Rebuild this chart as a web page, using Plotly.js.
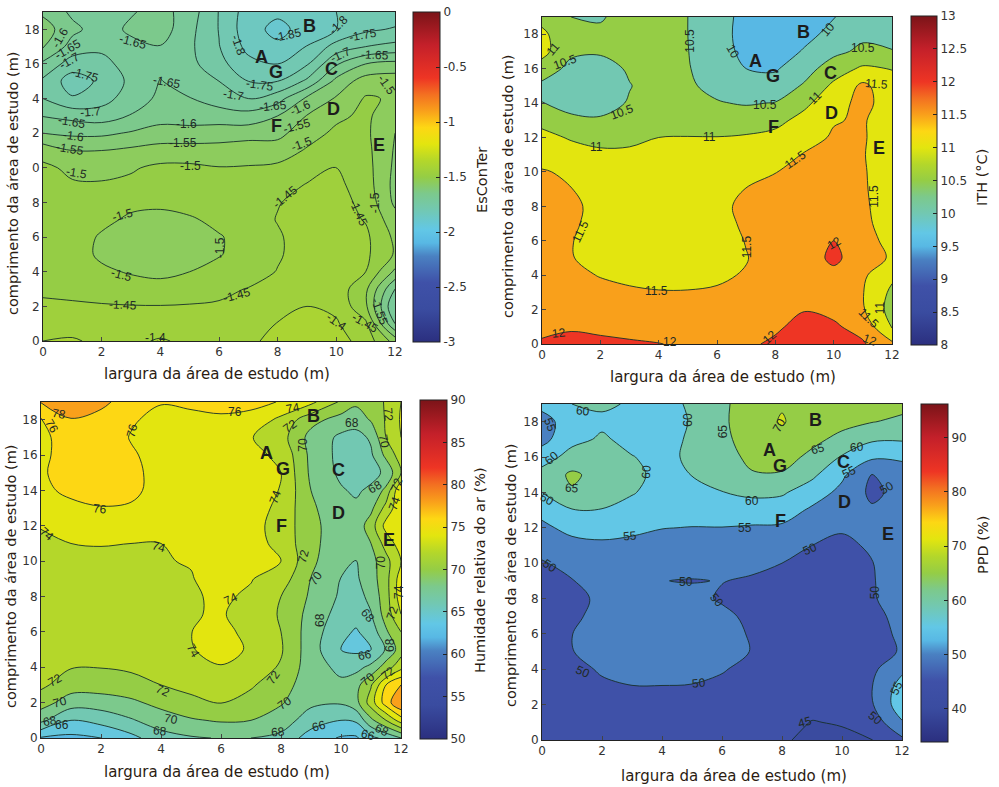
<!DOCTYPE html>
<html><head><meta charset="utf-8">
<script src="https://cdn.plot.ly/plotly-3.0.0.min.js"></script>
<style>html,body{margin:0;padding:0;background:#fff}</style></head>
<body><div id="g" style="width:999px;height:787px"></div>
<script>
// ----- data: each inner array is one column (one x), rows y = 0..19 -----
const yGrid = [0,1,2,3,4,5,6,7,8,9,10,11,12,13,14,15,16,17,18,19];
const xGrid = [0,1,2,3,4,5,6,7,8,9,10,11,12];
const xGridHum = [0,1,2,3,4,5,6,7,8,9,10,10.5,11,11.5,12];

const esConTer = [
[-1.40,-1.42,-1.44,-1.46,-1.47,-1.48,-1.485,-1.485,-1.485,-1.49,-1.49,-1.52,-1.60,-1.652,-1.70,-1.71,-1.66,-1.595,-1.575,-1.61],
[-1.395,-1.42,-1.445,-1.46,-1.47,-1.475,-1.48,-1.485,-1.49,-1.495,-1.51,-1.55,-1.61,-1.665,-1.745,-1.775,-1.725,-1.67,-1.637,-1.66],
[-1.41,-1.43,-1.447,-1.465,-1.49,-1.51,-1.505,-1.49,-1.49,-1.495,-1.515,-1.55,-1.61,-1.675,-1.72,-1.74,-1.715,-1.69,-1.675,-1.68],
[-1.41,-1.43,-1.448,-1.475,-1.505,-1.52,-1.525,-1.507,-1.49,-1.49,-1.505,-1.54,-1.595,-1.647,-1.675,-1.688,-1.68,-1.665,-1.64,-1.655],
[-1.395,-1.425,-1.448,-1.485,-1.51,-1.53,-1.53,-1.515,-1.49,-1.48,-1.49,-1.53,-1.58,-1.62,-1.64,-1.648,-1.66,-1.652,-1.625,-1.63],
[-1.41,-1.43,-1.447,-1.47,-1.50,-1.52,-1.52,-1.505,-1.485,-1.48,-1.49,-1.53,-1.58,-1.625,-1.648,-1.67,-1.685,-1.69,-1.685,-1.675],
[-1.415,-1.43,-1.445,-1.46,-1.485,-1.503,-1.503,-1.49,-1.48,-1.485,-1.498,-1.53,-1.575,-1.625,-1.675,-1.70,-1.735,-1.748,-1.752,-1.752],
[-1.41,-1.425,-1.44,-1.448,-1.47,-1.48,-1.485,-1.47,-1.47,-1.48,-1.497,-1.52,-1.572,-1.63,-1.70,-1.75,-1.785,-1.815,-1.83,-1.825],
[-1.385,-1.398,-1.42,-1.437,-1.448,-1.455,-1.455,-1.448,-1.452,-1.47,-1.49,-1.525,-1.565,-1.60,-1.67,-1.75,-1.80,-1.84,-1.865,-1.84],
[-1.385,-1.385,-1.40,-1.42,-1.43,-1.43,-1.43,-1.432,-1.438,-1.447,-1.47,-1.495,-1.52,-1.548,-1.59,-1.69,-1.755,-1.798,-1.83,-1.83],
[-1.38,-1.395,-1.41,-1.42,-1.43,-1.43,-1.43,-1.43,-1.43,-1.438,-1.448,-1.47,-1.49,-1.51,-1.545,-1.585,-1.655,-1.73,-1.80,-1.80],
[-1.42,-1.44,-1.49,-1.49,-1.45,-1.44,-1.44,-1.453,-1.465,-1.475,-1.48,-1.485,-1.49,-1.49,-1.495,-1.525,-1.60,-1.70,-1.76,-1.79],
[-1.52,-1.65,-1.70,-1.65,-1.56,-1.505,-1.51,-1.53,-1.56,-1.565,-1.56,-1.555,-1.55,-1.535,-1.505,-1.52,-1.585,-1.685,-1.745,-1.78]
];
const ith = [
[12.05,11.9,11.8,11.75,11.7,11.68,11.67,11.65,11.63,11.6,11.54,11.3,11.15,10.85,10.51,10.38,10.8,11.15,11.1,10.85],
[12.08,11.97,11.78,11.68,11.6,11.52,11.52,11.58,11.6,11.51,11.42,11.22,10.95,10.6,10.33,10.25,10.35,10.6,10.65,10.5],
[12.05,11.95,11.8,11.62,11.48,11.35,11.3,11.32,11.35,11.3,11.2,11.08,10.88,10.56,10.3,10.18,10.3,10.56,10.6,10.45],
[12.03,11.92,11.7,11.55,11.42,11.28,11.22,11.22,11.25,11.22,11.15,11.05,10.94,10.72,10.54,10.48,10.56,10.68,10.75,10.7],
[12.01,11.85,11.65,11.52,11.38,11.25,11.18,11.17,11.18,11.15,11.12,11.06,11.0,10.85,10.75,10.7,10.7,10.72,10.75,10.75],
[11.95,11.8,11.62,11.52,11.38,11.25,11.2,11.2,11.2,11.17,11.13,11.07,11.01,10.85,10.72,10.56,10.53,10.51,10.5,10.5],
[11.9,11.78,11.62,11.54,11.44,11.3,11.28,11.33,11.42,11.37,11.23,11.11,11.01,10.78,10.53,10.38,10.25,10.2,10.2,10.2],
[11.92,11.82,11.68,11.6,11.53,11.48,11.52,11.58,11.57,11.51,11.33,11.19,11.05,10.76,10.46,10.22,10.0,9.88,9.82,9.85],
[12.08,11.93,11.82,11.76,11.73,11.72,11.7,11.68,11.64,11.6,11.49,11.3,11.13,10.87,10.52,10.2,9.95,9.72,9.65,9.7],
[12.3,12.15,11.98,11.88,11.83,11.72,11.8,11.78,11.74,11.7,11.62,11.53,11.33,11.15,10.9,10.56,10.3,10.05,9.85,9.85],
[12.2,12.06,11.9,11.85,11.85,12.12,12.0,11.85,11.78,11.72,11.65,11.6,11.55,11.47,11.3,11.1,10.75,10.38,10.15,9.98],
[12.05,11.85,11.55,11.52,11.58,11.7,11.65,11.6,11.58,11.56,11.55,11.53,11.55,11.55,11.65,11.6,11.08,10.6,10.4,10.3],
[11.6,10.95,10.8,10.9,11.1,11.45,11.38,11.3,11.25,11.22,11.2,11.2,11.2,11.2,11.25,11.2,10.98,10.52,10.35,10.25]
];
const humidade = [
[63.8,68.5,70.9,72.4,72.9,73.1,73.2,73.2,73.2,73.3,73.4,73.6,74.1,75,75.6,75.8,75.6,75.4,75.8,78.1],
[63.5,66,69,70.95,72.1,72.7,72.9,73,73.1,73.2,73.4,74,74.9,75.55,76.4,76.7,76.8,77.2,77.9,79.2],
[64,66.7,69,71,72.05,72.6,72.8,72.9,73,73.2,73.5,74.1,75,75.9,76.8,76.9,77,77.1,77.3,78.5],
[65.4,67.8,69.6,71.3,72.3,72.7,72.9,73,73.1,73.3,73.6,74,74.9,75.75,76.5,76.5,76.2,75.9,76.2,77],
[67.2,69,70.6,72,73.1,73.5,73.6,73.7,73.7,73.8,73.9,74,74.5,75,75.2,75.3,75.4,75.4,75.5,76.1],
[67.8,69.8,71.4,72.7,73.2,73.9,73.98,73.9,73.8,73.9,74.1,74.5,74.7,74.9,75,75.1,75.2,75.3,75.6,76.3],
[68.1,70.2,72.05,73,73.9,74.6,74.5,74.15,74.3,74.8,75,75.1,75.2,75.2,75.2,75.2,75.2,75.3,75.8,76.4],
[68,70,71.4,72.2,73,73.8,73.5,73.3,73.7,74.1,74.5,74.8,74.6,74.9,75,75,74.5,74.1,75.4,76.5],
[67.5,69,70.2,71,71.8,72.2,72,71.8,72,73,74,73.4,73.3,73.5,73.9,74,73.6,72.8,73.5,75.9],
[65,67,68.4,68.7,68.9,68.9,69,69.3,69.7,69.95,70.4,70.5,70.5,70.3,70,69.6,69.5,69.3,70.7,74.5],
[63.8,66,68.2,68.4,67.5,66,66.5,67.2,67.7,67.95,68.5,68.9,69,68.8,68.2,67.6,67.4,67.6,69.2,71.7],
[63.7,66.3,69.3,69.3,67.4,65.6,65.8,66.7,67.3,67.7,67.98,68.5,68.8,68.4,67.7,67,66.9,67.3,68.9,70.4],
[65.5,69.5,73,71.8,68.5,65.9,66.8,67.9,68.5,69.1,69.3,70,71,69.5,68.4,67.3,67.7,68.3,70.2,71],
[66.5,72,77,76,71,68.2,69.7,70.9,71.2,71.3,71.3,72.8,74.7,72.7,70.5,68.4,70.5,72,72.2,72.2],
[68,75,80,78,73.4,71,72,74,75,75,74,75,76,75.5,76,72,73,74,74.2,74]
];
const ppd = [
[46.5,46.7,46.9,47,47.2,47.5,47.8,48,48.3,48.8,49.6,51.8,53.9,56.5,60,62,57.5,53.5,53,56.5],
[47.5,47.5,47.6,47.9,48.4,49.9,49.95,49.2,49,49.9,51.5,53.4,56.5,59.7,64.5,65.8,62,58.5,57.6,60],
[47.6,47.6,48,49.1,50.6,51.3,51.8,51.3,50.7,50.7,52,54.3,56.5,59.8,62.3,63.3,62.6,60.7,59,60.8],
[47.5,47.6,48.5,49.9,51,52,52.5,52.3,51.7,51.6,52.4,54.1,55.8,58,60.4,61.3,60.2,58.5,58,59.5],
[47.5,47.7,48.5,49.9,51.1,52.1,52.6,52.4,51.2,50.05,51.5,53.6,55.1,56.5,57.8,58.5,58.5,58.3,58.2,58.6],
[47.5,47.7,48.4,49.8,51,51.9,52.3,52.2,51,49.85,51.2,53.4,54.9,56.5,58.8,60.1,61,60.7,60.3,60.6],
[47.8,47.9,48.4,49.4,50.2,51,51.5,50.8,49.6,50.1,51.4,53.2,54.9,57.3,59.9,61.2,62.5,63.5,64,63.9],
[47.8,47.9,48.2,48.7,49.2,49.9,49.6,49.2,49.1,49.6,50.8,52.7,54.5,57.7,61,64.5,66.5,67.8,68.3,68],
[45.5,46,46.8,47.3,47.8,47.9,47.9,48,48.3,48.9,50,52,54.2,57.5,60.6,64.5,67,69,70.3,69.7],
[44,44.9,45.8,46.3,46.7,47,47,47.3,47.8,48.3,49.1,50,52.4,54.2,57.5,61,63.8,66.3,68,68.3],
[44.4,45.2,45.9,46.4,46.7,46.8,47,47.2,47.7,48,48.5,49.2,50.4,52,53.7,55.9,59.6,63.6,66.5,67.2],
[44.9,47,49.6,49.9,49,48.2,48,48.8,49.7,49.8,49.9,50.5,50.9,50.6,49,49.9,55.8,60.7,65.2,66.5],
[49,54.6,58,57,54,50.4,51,51.3,51.5,51.5,51.5,51.5,52,52.3,51.5,53.5,55.5,60.5,64,66.5]
];

const xTicks = [0,2,4,6,8,10,12];
const yTicks = [0,2,4,6,8,10,12,14,16,18];
const yLabelsClipped = ['0','2','4','6','8','0','2','4','16','18'];
const yLabels = ['0','2','4','6','8','10','12','14','16','18'];
const pointNames = ['A','B','C','D','E','F','G'];
const pointsX = [[7.46,9.09,9.85,9.9,11.45,7.97,7.95],[7.32,8.98,9.9,9.93,11.57,7.95,7.93],[7.52,9.08,9.93,9.93,11.6,8.02,8.06],[7.58,9.1,10.05,10.09,11.53,7.94,7.92]];
const pointsY = [[16.4,18.2,15.7,13.4,11.3,12.4,15.55],[16.44,18.1,15.75,13.44,11.4,12.6,15.57],[16.13,18.2,15.17,12.74,11.18,11.97,15.2],[16.4,18.07,15.7,13.43,11.66,12.4,15.47]];

// contour-level texts [text, x at 3x of the sheet quadrant, y at 3x, rotation]
const labelsEsConTer = [['-1.6',180,115,-60],['-1.65',205,148,-30],['-1.7',207,183,-30],['-1.75',255,226,15],['-1.7',270,335,-5],['-1.65',215,365,10],['-1.6',220,408,8],['-1.55',210,447,10],['-1.5',230,518,10],['-1.65',400,127,15],['-1.65',500,245,10],['-1.7',700,285,10],['-1.75',780,255,8],['-1.8',715,135,70],['-1.85',865,105,-12],['-1.8',1015,75,-45],['-1.75',1090,105,-10],['-1.7',1020,165,-25],['-1.65',1125,165,3],['-1.65',820,318,-5],['-1.6',900,325,-25],['-1.55',890,378,-15],['-1.6',560,372,0],['-1.55',550,428,0],['-1.5',905,432,-20],['-1.5',570,497,0],['-1.45',855,590,-40],['-1.45',1075,640,65],['-1.5',1125,610,-90],['-1.5',1160,255,55],['-1.5',368,645,-15],['-1.5',660,745,-90],['-1.5',365,825,15],['-1.45',370,915,3],['-1.45',712,885,-15],['-1.4',465,1015,0],['-1.4',1010,965,35],['-1.45',1095,970,30],['-1.55',1140,935,70]];
const labelsIth = [['11',160,148,-50],['10.5',195,185,-20],['10.5',365,335,-20],['10.5',570,122,-90],['10',700,155,60],['10',985,88,-50],['10.5',1088,145,0],['10.5',795,315,0],['11',945,295,-45],['11.5',1130,253,5],['11',290,440,0],['11',628,412,0],['11.5',885,480,-35],['11.5',240,695,-65],['11.5',740,740,-90],['11.5',1122,590,-90],['12',1003,728,-30],['11.5',470,873,0],['12',178,1000,-5],['12',510,1025,0],['12',810,1012,-40],['12',1110,1020,20],['11.5',1105,955,45],['11',1140,925,-90]];
const labelsHumidade = [['78',178,73,10],['76',155,108,60],['76',395,122,-75],['76',705,67,0],['74',880,53,-10],['72',870,107,-35],['70',908,165,-90],['68',1057,100,0],['72',1165,75,85],['70',1153,155,80],['68',1125,290,-30],['72',1190,285,-70],['74',1185,340,-70],['74',825,320,-70],['76',300,357,5],['74',140,432,40],['74',478,470,15],['72',910,497,-75],['70',948,565,-55],['70',1143,517,-90],['74',693,628,-25],['74',1195,605,-90],['72',1178,670,-70],['68',1105,677,50],['68',960,690,-90],['68',1170,765,-90],['66',1095,795,-10],['74',580,783,60],['72',820,860,-55],['72',165,870,-30],['72',490,902,25],['70',180,935,-15],['70',855,940,-35],['70',512,987,10],['68',150,993,-10],['66',185,1005,0],['68',480,1023,5],['68',835,1025,-5],['66',958,1008,-15],['66',1105,1035,15],['68',1145,1020,25],['70',1105,868,-40],['72',1165,848,-40]];
const labelsPpd = [['55',150,105,70],['60',250,62,5],['60',155,205,-40],['60',140,328,30],['65',215,295,5],['60',438,245,-85],['60',563,90,-90],['65',668,125,-90],['70',838,105,-60],['65',953,178,-15],['60',1072,172,-5],['55',1048,245,-25],['60',757,333,0],['55',735,415,0],['55',390,438,-5],['50',930,477,-25],['50',150,527,35],['50',557,575,0],['50',650,630,50],['50',1125,607,-90],['50',1160,295,-30],['50',250,845,25],['50',598,880,-5],['45',915,997,-15],['50',1125,985,40],['55',1190,895,-65]];

// ----- colours -----
const cmap = [[0,'#2b2f7f'],[0.1,'#3a4ca0'],[0.18,'#3f51a8'],[0.26,'#4a81c2'],[0.3,'#58b8e4'],[0.34,'#62c7e6'],[0.4,'#72c8b2'],[0.45,'#7cc98c'],[0.5,'#95cd45'],[0.55,'#b4d72a'],[0.6,'#e3e50f'],[0.65,'#fdd714'],[0.7,'#f9a01b'],[0.75,'#f37021'],[0.8,'#ee3524'],[0.9,'#c4202a'],[1,'#7b1418']];
function hex(c){return [1,3,5].map(i=>parseInt(c.substr(i,2),16));}
function sample(t){t=Math.max(0,Math.min(1,t));for(let i=1;i<cmap.length;i++){if(t<=cmap[i][0]){const a=cmap[i-1],b=cmap[i],f=(t-a[0])/(b[0]-a[0]),p=hex(a[1]),q=hex(b[1]);return 'rgb('+p.map((v,k)=>Math.round(v+(q[k]-v)*f)).join(',')+')';}}return cmap[cmap.length-1][1];}
// band colour = colour of the band's lower level
function bandScale(start,end,size,cmin,cmax){const nc=Math.floor((end-start)/size+1e-6)+1,out=[];for(let i=0;i<=nc;i++){const L=start+(i-1)*size;out.push([i/nc,sample((L-cmin)/(cmax-cmin))]);}return out;}

const W=999,H=787;
const panels=[
 {z:esConTer,x:xGrid,box:[43,395,12,341],cb:[413,440,12,342],start:-1.85,end:-1.4,size:0.05,cmin:-3,cmax:0,cbTicks:[-3,-2.5,-2,-1.5,-1,-0.5,0],cbText:['-3','-2.5','-2','-1.5','-1','-0.5','0'],label:'EsConTer',lab:[482,180],yl:yLabelsClipped,xt:[217,374],yt:[13,184],off:[0,0],cl:labelsEsConTer},
 {z:ith,x:xGrid,box:[542,892,17,344],cb:[911,937,16,345],start:10,end:12,size:0.5,cmin:8,cmax:13,cbTicks:[8,8.5,9,9.5,10,10.5,11,11.5,12,12.5,13],cbText:['8','8.5','9','9.5','10','10.5','11','11.5','12','12.5','13'],label:'ITH (°C)',lab:[982,178],yl:yLabels,xt:[723,377],yt:[508,187],off:[500,0],cl:labelsIth},
 {z:humidade,x:xGridHum,box:[41,401,402,738],cb:[420,447,400,739],start:64,end:78,size:2,cmin:50,cmax:90,cbTicks:[50,55,60,65,70,75,80,85,90],cbText:['50','55','60','65','70','75','80','85','90'],label:'Humidade relativa do ar (%)',lab:[480,570],yl:yLabels,xt:[217,772],yt:[11,577],off:[0,390],cl:labelsHumidade},
 {z:ppd,x:xGrid,box:[542,902,404,740],cb:[921,948,404,742],start:45,end:70,size:5,cmin:33.9,cmax:96.2,cbTicks:[40,50,60,70,80,90],cbText:['40','50','60','70','80','90'],label:'PPD (%)',lab:[983,545],yl:yLabels,xt:[734,776],yt:[511,576],off:[500,390],cl:labelsPpd}
];
const tickFont={family:'DejaVu Sans',size:12,color:'#333'};
const titleFont={family:'DejaVu Sans',size:14.5,color:'#2b1c12'};
const xTitleFont={family:'DejaVu Sans',size:15,color:'#2b1c12'};
const traces=[],layout={width:W,height:H,margin:{l:0,r:0,t:0,b:0},autosize:false,showlegend:false,paper_bgcolor:'#fff',plot_bgcolor:'#fff',annotations:[]};
const paperNote=(x,y,text,font,angle)=>({xref:'paper',yref:'paper',x:x/W,y:1-y/H,text:text,textangle:angle,showarrow:false,font:font,xanchor:'center',yanchor:'middle'});
panels.forEach((p,i)=>{
 const n=i===0?'':String(i+1);
 layout['xaxis'+n]={domain:[p.box[0]/W,p.box[1]/W],anchor:'y'+n,range:[0,12],tickvals:xTicks,ticktext:xTicks.map(String),ticks:'inside',ticklen:4,showline:true,mirror:true,linecolor:'#222',linewidth:1,showgrid:false,zeroline:false,tickfont:tickFont};
 layout['yaxis'+n]={domain:[1-p.box[3]/H,1-p.box[2]/H],anchor:'x'+n,range:[0,19],tickvals:yTicks,ticktext:p.yl,ticks:'inside',ticklen:4,showline:true,mirror:true,linecolor:'#222',linewidth:1,showgrid:false,zeroline:false,tickfont:tickFont};
 traces.push({type:'contour',x:p.x,y:yGrid,z:p.z,transpose:true,xaxis:'x'+n,yaxis:'y'+n,showscale:false,hoverinfo:'skip',
  colorscale:bandScale(p.start,p.end,p.size,p.cmin,p.cmax),autocontour:false,
  contours:{start:p.start,end:p.end,size:p.size,coloring:'fill',showlabels:false},
  line:{color:'#17302a',width:0.9,smoothing:1}});
 traces.push({type:'scatter',mode:'markers',x:[0,0],y:[0,0],xaxis:'x'+n,yaxis:'y'+n,hoverinfo:'skip',
  marker:{size:1,opacity:0,color:[p.cmin,p.cmax],cmin:p.cmin,cmax:p.cmax,colorscale:cmap,showscale:true,
   colorbar:{x:p.cb[0]/W,xanchor:'left',xpad:0,ypad:0,y:1-p.cb[3]/H,yanchor:'bottom',len:(p.cb[3]-p.cb[2])/H,lenmode:'fraction',thickness:p.cb[1]-p.cb[0],thicknessmode:'pixels',outlinecolor:'#222',outlinewidth:1,tickvals:p.cbTicks,ticktext:p.cbText,ticks:'inside',ticklen:4,tickcolor:'#222',tickfont:tickFont}}});
 layout.annotations.push(paperNote(p.lab[0],p.lab[1],p.label,titleFont,-90));
 layout.annotations.push(paperNote(p.xt[0],p.xt[1],'largura da área de estudo (m)',xTitleFont,0));
 layout.annotations.push(paperNote(p.yt[0],p.yt[1],'comprimento da área de estudo (m)',titleFont,-90));
 p.cl.forEach(c=>layout.annotations.push(paperNote(p.off[0]+c[1]/3,p.off[1]+c[2]/3,c[0],{family:'Liberation Sans',size:12,color:'#1f2a24'},c[3])));
 pointNames.forEach((s,k)=>layout.annotations.push({xref:'x'+n,yref:'y'+n,x:pointsX[i][k],y:pointsY[i][k],text:'<b>'+s+'</b>',showarrow:false,font:{family:'Liberation Sans',size:18,color:'#1c1c1c'}}));
});
Plotly.newPlot('g',traces,layout,{staticPlot:true,displayModeBar:false});
</script></body></html>
